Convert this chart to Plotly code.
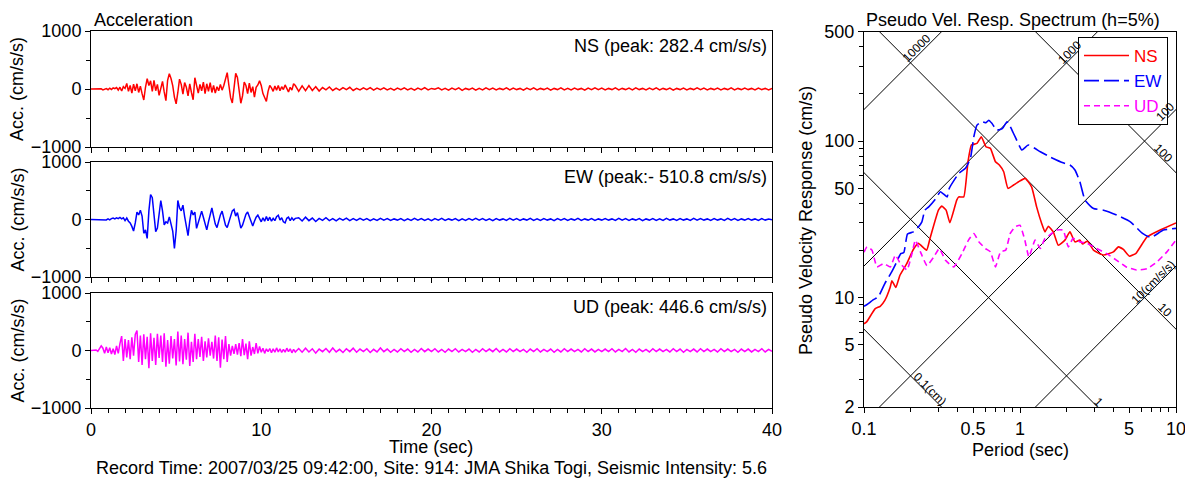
import numpy as np
import plotly.graph_objects as go

# ---------------- data ----------------
# time axis of the records (sec)
t_early = np.round(np.arange(0, 12.01, 0.1), 1)     # 0.0 .. 12.0
t_late = np.round(np.arange(12.2, 40.01, 0.2), 1)   # 12.2 .. 40.0

ns_early = [0, 0, 2, -3, 4, -5, 3, -15, -10, 8,
            -12, 15, -8, 20, 5, 25, -18, 30, -35, 40,
            10, 95, -40, 60, -70, 85, -30, 90, -60, 50,
            -80, -190, 30, 180, 60, 140, -40, 150, -30, 80,
            -110, 40, 130, -50, -200, 150, 265, 180, 60, -140,
            -255, -60, 170, 80, -90, 110, 30, -120, 90, -60,
            -185, 195, 40, -70, 80, -30, 120, -80, 90, -40,
            110, -60, 60, -70, 40, -30, 80, -20, 60, 180,
            282, 60, -150, -240, -20, 270, 200, -60, -245, -120,
            120, 60, -80, 100, -60, 40, -140, 30, 70, 140,
            60, -80, -150, -215, -40, 60, 20, -40, 50, -20,
            60, -30, 40, -10, 70, 20, -50, 30, -20, 90,
            60]
ns_late = [-40, 55, -30, 60, -25, 40, -35, 25, -15, 35, -25, 15, -20, 25, -10,
           30, -25, 10, -15, 20, -10, 25, -20, 15, -10, 20, -15, 10, -20, 15,
           -10, 20, -15, 10, -20, 15, -10, 25, -15, 10, -5, 20, -15, 10, -20,
           15, -10, 20, -25, 10, -10, 15, -20, 10, -15, 20, -10, 15, -15, 10,
           -10, 20, -15, 15, -10, 10, -20, 15, -10, 20, -15, 10, -10, 15, -20,
           10, -10, 20, -15, 10, -15, 15, -10, 10, -20, 15, -10, 20, -10, 15,
           -15, 10, -10, 20, -15, 10, -10, 15, -15, 20, -10, 10, -15, 15, -10,
           20, -15, 10, -10, 15, -20, 10, -10, 15, -15, 10, -10, 20, -10, 15,
           -15, 10, -10, 15, -15, 10, -10, 20, -15, 10, -10, 15, -10, 10, -15,
           15, -10, 10, -15, 10]

ew_early = [0, 0, 2, -2, 3, -3, 2, -5, 5, -8,
            10, -6, 15, 25, 10, 30, 15, 35, 10, 30,
            -20, 25, -30, -60, -120, -200, -60, 130, 80, 160,
            60, -240, -180, -330, 150, 435, 380, 120, -210, -150,
            90, 330, 150, -95, -40, -60, 45, -80, -200, -505,
            -200, 330, 200, 150, 250, 50, -150, -280, -30, 160,
            80, 130, -155, -60, 60, 145, 40, -100, -180, -40,
            90, 200, 60, -80, -140, -20, 80, 145, 20, -100,
            -140, -40, 60, 150, 175, 60, 120, -30, -150, -100,
            20, 90, 130, 40, -60, -115, -30, 40, 75, 20,
            -40, 30, -30, 50, -20, 40, -30, 20, -20, 50,
            75, -10, 30, -40, -60, 20, 40, -20, 30, -10,
            20]
ew_late = [30, -25, 40, -20, 25, -35, 20, -15, 30, -20, 15, -25, 20, -10, 25,
           -20, 15, -15, 20, -10, 15, -20, 10, -15, 20, -10, 15, -15, 10, -10,
           15, -20, 10, -15, 20, -10, 15, -15, 10, -20, 15, -10, 20, -15, 10,
           -10, 15, -20, 10, -15, 15, -10, 20, -10, 15, -15, 10, -20, 15, -10,
           10, -15, 20, -10, 15, -15, 10, -10, 20, -15, 10, -15, 15, -10, 10,
           -20, 15, -10, 15, -15, 10, -10, 20, -15, 10, -10, 15, -15, 10, -10,
           15, -10, 10, -15, 20, -10, 15, -15, 10, -10, 15, -20, 10, -10, 15,
           -15, 10, -15, 20, -10, 10, -15, 15, -10, 10, -15, 20, -10, 15, -10,
           10, -15, 15, -10, 10, -15, 20, -10, 15, -15, 10, -10, 15, -10, 10,
           -15, 15, -10, 10, -5]

ud_early = [0, 3, -5, 10, -15, 30, 80, 40, -50, 60,
            -40, 50, -60, 30, -70, 80, -50, 120, 250, -180,
            200, -120, 180, -150, 230, -90, 280, 345, -200, 260,
            -250, 280, -150, 240, -310, 300, -180, 220, -250, 290,
            -130, 260, -200, 300, -280, 180, -230, 250, -140, 200,
            -260, 330, -190, 260, -240, 200, -160, 310, -270, 150,
            -200, 290, -150, 200, -110, 240, -180, 160, -120, 210,
            -90, 150, -140, 260, -180, 230, -300, 190, -150, 250,
            -200, 110, -90, 80, -60, 110, -70, 130, -100, 200,
            -80, 120, -150, 160, -90, 60, -60, 130, -50, 70,
            -30, 40, -50, 30, -20, 35, -40, 30, -30, 45,
            -25, 30, -35, 20, -30, 40, -20, 30, -40, 20,
            -25]
ud_late = [35, -30, 40, -25, 30, -45, 25, -20, 35, -30, 45, -25, 20, -35, 30,
           -20, 40, -30, 25, -20, 30, -35, 20, -25, 45, -20, 25, -30, 20, -25,
           30, -20, 25, -30, 20, -25, 35, -20, 25, -20, 30, -25, 20, -30, 25,
           -20, 30, -25, 20, -20, 25, -30, 20, -25, 30, -20, 25, -20, 35, -25,
           20, -25, 30, -20, 25, -20, 20, -30, 25, -20, 30, -25, 20, -20, 25,
           -30, 20, -25, 30, -20, 25, -20, 20, -25, 30, -20, 25, -25, 20, -20,
           25, -20, 30, -25, 20, -20, 35, -25, 20, -30, 25, -20, 20, -25, 30,
           -20, 25, -20, 20, -25, 30, -20, 25, -30, 20, -20, 25, -25, 30, -20,
           25, -20, 20, -25, 30, -20, 25, -20, 20, -30, 25, -20, 25, -25, 20,
           -20, 30, -25, 20, -15]

components = ["NS", "EW", "UD"]
comp_colors = ["#ff0000", "#0000ff", "#ff00ff"]
peak_labels = ["NS (peak: 282.4 cm/s/s)", "EW (peak:- 510.8 cm/s/s)", "UD (peak: 446.6 cm/s/s)"]

# pseudo velocity response spectra (h=5%)
ns_T = [0.1, 0.104, 0.118, 0.127, 0.136, 0.147, 0.151, 0.160, 0.170, 0.188,
        0.207, 0.223, 0.252, 0.265, 0.300, 0.315, 0.336, 0.355, 0.393, 0.405,
        0.436, 0.464, 0.488, 0.53, 0.565, 0.605, 0.646, 0.696, 0.737, 0.786,
        0.837, 0.91, 0.98, 1.08, 1.187, 1.278, 1.377, 1.446, 1.52, 1.635,
        1.76, 1.94, 2.09, 2.25, 2.42, 2.52, 2.7, 2.96, 3.43, 3.97,
        4.27, 4.6, 5.03, 5.54, 6.52, 7.91, 10.0]
ns_Sv = [6.8, 7.0, 8.5, 8.8, 9.6, 11.6, 12.8, 11.6, 13.9, 16.5,
         20.3, 22.2, 20.1, 23.9, 36.2, 38.4, 36.2, 30.1, 42, 44,
         44, 73.8, 94.4, 96.6, 106.7, 92, 89.8, 73.8, 70.3, 63.7,
         49.9, 52.4, 55, 57.8, 51, 38, 29.8, 26.3, 28.6, 26.3,
         21.6, 23.3, 26.3, 22.7, 23.3, 22, 23, 20.1, 18.7, 19.6,
         21.1, 20.3, 18.4, 19.2, 24.4, 27, 30]
ew_T = [0.1, 0.104, 0.115, 0.1235, 0.136, 0.1505, 0.162, 0.172, 0.18, 0.19,
        0.207, 0.223, 0.235, 0.2456, 0.26, 0.284, 0.309, 0.341, 0.352, 0.405,
        0.447, 0.481, 0.506, 0.53, 0.57, 0.605, 0.63, 0.66, 0.71, 0.77,
        0.825, 0.866, 0.93, 1.028, 1.13, 1.35, 1.55, 1.89, 2.09, 2.25,
        2.42, 2.61, 2.96, 3.43, 4.17, 5.1, 6.1, 6.9, 8.3, 10.0]
ew_Sv = [8.8, 9.0, 9.7, 10.1, 12.3, 14.6, 16.9, 19.1, 19.4, 25.5,
         26.3, 28.3, 30.5, 36.2, 38, 42, 47.5, 44, 49.9, 62.2,
         67, 77.6, 106.7, 126.5, 133, 131, 136, 130, 117.5, 120,
         133, 123.6, 106.7, 87.7, 94.4, 85.5, 79.4, 72.6, 70.3, 65.3,
         55, 42, 37.1, 36.2, 33.7, 30.5, 25.7, 24.2, 27, 27.7]
ud_T = [0.1, 0.1045, 0.1125, 0.121, 0.1337, 0.1475, 0.159, 0.171, 0.1886, 0.203,
        0.2135, 0.23, 0.2534, 0.28, 0.304, 0.333, 0.376, 0.4245, 0.4676, 0.506,
        0.545, 0.6, 0.646, 0.696, 0.75, 0.81, 0.866, 0.93, 1.0, 1.074,
        1.14, 1.25, 1.35, 1.446, 1.55, 1.72, 1.89, 2.04, 2.19, 2.42,
        2.67, 3.1, 3.59, 4.17, 4.8, 5.57, 6.52, 7.55, 8.74, 10.0]
ud_Sv = [19.5, 21.1, 20.1, 15.7, 16.5, 15.7, 18.7, 16.5, 15.0, 19.1,
         23.3, 19.6, 16.0, 18.2, 20.6, 17.3, 15.7, 19.1, 23.3, 25.7,
         22.7, 20.6, 19.6, 15.7, 19.6, 20.1, 25.7, 28.3, 29.0, 23.3,
         18.2, 23.3, 20.6, 23.9, 25.1, 27.0, 27.0, 21.1, 23.9, 22.7,
         22.3, 20.6, 19.1, 17.3, 15.7, 15.0, 15.3, 16.9, 19.6, 23.3]

# tripartite guide values
disp_levels = [0.1, 1, 10, 100]           # cm
acc_levels = [10, 100, 1000, 10000]       # cm/s/s

# ---------------- figure ----------------
# the page body adds an 8 px margin, so the figure is 8 px smaller on each axis
OFF = 8
W, H = 1193 - OFF, 481 - OFF
FONT = "Liberation Sans, Arial, sans-serif"
FS = 18


def px_x(p):
    return (p - OFF) / W


def px_y(p):
    return 1 - (p - OFF) / H


fig = go.Figure()

panel_px = [(31, 147), (162, 277), (293, 408)]
x_left_dom = [px_x(91), px_x(772)]

series_early = [ns_early, ew_early, ud_early]
series_late = [ns_late, ew_late, ud_late]

for i in range(3):
    xa = "x" if i == 0 else f"x{i+1}"
    ya = "y" if i == 0 else f"y{i+1}"
    t_all = np.concatenate([t_early, t_late])
    v_all = list(series_early[i]) + list(series_late[i])
    fig.add_trace(go.Scatter(x=t_all, y=v_all, mode="lines",
                             line=dict(color=comp_colors[i], width=1.5),
                             showlegend=False, xaxis=xa, yaxis=ya,
                             hoverinfo="skip"))

# tripartite grid lines on the spectrum plot
T_span = np.array([0.02, 50.0])
for d in disp_levels:
    fig.add_trace(go.Scatter(x=T_span, y=2 * np.pi * d / T_span, mode="lines",
                             line=dict(color="black", width=1),
                             showlegend=False, xaxis="x4", yaxis="y4", hoverinfo="skip"))
for a in acc_levels:
    fig.add_trace(go.Scatter(x=T_span, y=a * T_span / (2 * np.pi), mode="lines",
                             line=dict(color="black", width=1),
                             showlegend=False, xaxis="x4", yaxis="y4", hoverinfo="skip"))

spec = [(ns_T, ns_Sv, "solid"), (ew_T, ew_Sv, "15px,5px"), (ud_T, ud_Sv, "6px,4px")]
for i, (T, S, dash) in enumerate(spec):
    fig.add_trace(go.Scatter(x=T, y=S, mode="lines",
                             line=dict(color=comp_colors[i], width=1.6, dash=dash,
                                       shape="spline", smoothing=0.4),
                             name=f"<span style='color:{comp_colors[i]}'>{components[i]}</span>",
                             xaxis="x4", yaxis="y4", hoverinfo="skip"))

axis_common = dict(showline=True, linecolor="black", linewidth=1, mirror=True,
                   showgrid=False, zeroline=False, ticks="outside", ticklen=5,
                   automargin=False,
                   tickcolor="black", tickfont=dict(family=FONT, size=FS, color="black"))

layout = dict(width=W, height=H, margin=dict(l=0, r=0, t=0, b=0, pad=0, autoexpand=False),
              paper_bgcolor="white", plot_bgcolor="white",
              font=dict(family=FONT, size=FS, color="black"))

for i in range(3):
    top, bot = panel_px[i]
    xk = "xaxis" if i == 0 else f"xaxis{i+1}"
    yk = "yaxis" if i == 0 else f"yaxis{i+1}"
    ya = "y" if i == 0 else f"y{i+1}"
    xa = "x" if i == 0 else f"x{i+1}"
    layout[xk] = dict(axis_common, domain=x_left_dom, anchor=ya, range=[0, 40],
                      tickvals=[0, 10, 20, 30, 40], showticklabels=(i == 2),
                      minor=dict(dtick=1, ticklen=4, ticks="outside", tickcolor="black"))
    layout[yk] = dict(axis_common, domain=[px_y(bot), px_y(top)], anchor=xa,
                      range=[-1000, 1000], tickvals=[-1000, 0, 1000],
                      minor=dict(dtick=500, ticklen=4, ticks="outside", tickcolor="black"))

minor_T = [v * 10 ** e for e in (-1, 0) for v in range(2, 10) if v != 5]
minor_S = [v * 10 ** e for e in (0, 1, 2) for v in range(2, 10)]
minor_S = [s for s in minor_S if 2 <= s <= 500 and s not in (2, 5, 10, 50, 100, 500)]

layout["xaxis4"] = dict(axis_common, type="log", domain=[px_x(864), px_x(1176)], anchor="y4",
                        range=[-1, 1], tickvals=[0.1, 0.5, 1, 5, 10],
                        ticktext=["0.1", "0.5", "1", "5", "10"],
                        minor=dict(tickvals=minor_T, ticklen=4, ticks="outside", tickcolor="black"))
layout["yaxis4"] = dict(axis_common, type="log", domain=[px_y(407), px_y(31.7)], anchor="x4",
                        range=[np.log10(2), np.log10(500)], tickvals=[2, 5, 10, 50, 100, 500],
                        ticktext=["2", "5", "10", "50", "100", "500"],
                        minor=dict(tickvals=minor_S, ticklen=4, ticks="outside", tickcolor="black"))

layout["legend"] = dict(x=px_x(1078), y=px_y(37), xanchor="left", yanchor="top",
                        bgcolor="white", bordercolor="black", borderwidth=1,
                        font=dict(family=FONT, size=17), itemwidth=45,
                        tracegroupgap=0)
fig.update_layout(**layout)

ann = []
ann.append(dict(text="Acceleration", x=px_x(92), y=px_y(20), xanchor="left", yanchor="middle"))
ann.append(dict(text="Pseudo Vel. Resp. Spectrum (h=5%)", x=px_x(864), y=px_y(20),
                xanchor="left", yanchor="middle"))
label_y = [46, 177, 307]
for i in range(3):
    ann.append(dict(text=peak_labels[i], x=px_x(769), y=px_y(label_y[i]),
                    xanchor="right", yanchor="middle"))
    top, bot = panel_px[i]
    ann.append(dict(text="Acc. (cm/s/s)", x=px_x(17), y=px_y((top + bot) / 2),
                    xanchor="center", yanchor="middle", textangle=-90))
ann.append(dict(text="Time (sec)", x=px_x(431), y=px_y(447), xanchor="center", yanchor="middle"))
ann.append(dict(text="Record Time: 2007/03/25 09:42:00, Site: 914: JMA Shika Togi, Seismic Intensity: 5.6",
                x=px_x(431), y=px_y(468), xanchor="center", yanchor="middle"))
ann.append(dict(text="Period (sec)", x=px_x(1020), y=px_y(450), xanchor="center", yanchor="middle"))
ann.append(dict(text="Pseudo Velocity Response (cm/s)", x=px_x(806), y=px_y(221),
                xanchor="center", yanchor="middle", textangle=-90))
for a in ann:
    a.update(xref="paper", yref="paper", showarrow=False,
             font=dict(family=FONT, size=FS, color="black"))

# tripartite labels (rising = acceleration, falling = displacement)
tri_labels = [("10000", 0.218, 392, -45), ("1000", 2.09, 372, -45),
              ("100", 8.49, 154, -45), ("10(cm/s/s)", 7.15, 12.6, -45),
              ("100", 8.26, 83.8, 45), ("10", 8.49, 8.31, 45),
              ("1", 3.18, 2.15, 45), ("0.1(cm)", 0.265, 2.62, 45)]
for txt, T, S, ang in tri_labels:
    ann.append(dict(text=txt, x=np.log10(T), y=np.log10(S), xref="x4", yref="y4",
                    showarrow=False, textangle=ang,
                    font=dict(family=FONT, size=12, color="black")))

fig.update_layout(annotations=ann)
fig.write_html("out.html")
